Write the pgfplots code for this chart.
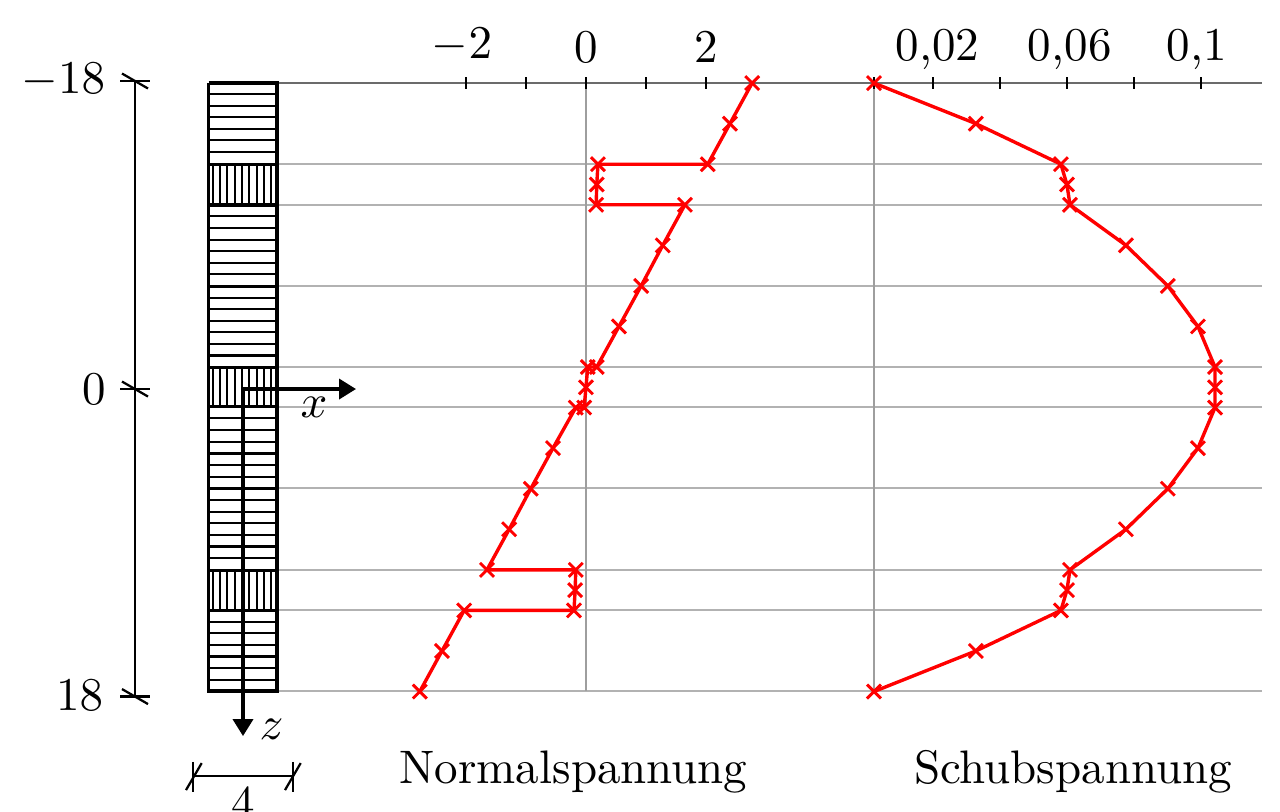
\documentclass[border=0pt]{standalone}
\usepackage{pgfplots}
\pgfplotsset{compat=1.18}
\usetikzlibrary{arrows.meta}
\definecolor{gl}{gray}{0.70}
\definecolor{gv}{gray}{0.62}
\definecolor{gt}{gray}{0.42}
\pgfplotstableread{
z s
-18 2.77
-15.6 2.40
-13.2 2.03
-13.2 0.20
-12 0.18
-10.8 0.17
-10.8 1.65
-8.4 1.28
-6 0.92
-3.6 0.55
-1.2 0.18
-1.2 0.03
0 0
1.2 -0.03
1.2 -0.17
3.6 -0.55
6 -0.92
8.4 -1.28
10.8 -1.65
10.8 -0.17
12 -0.18
13.2 -0.20
13.2 -2.03
15.6 -2.40
18 -2.77
}\normaltable
\pgfplotstableread{
z t
-18 0.0024
-15.6 0.0328
-13.2 0.0582
-12 0.0600
-10.8 0.0609
-8.4 0.0776
-6 0.0901
-3.6 0.0991
-1.2 0.1042
0 0.1042
1.2 0.1042
3.6 0.0991
6 0.0901
8.4 0.0776
10.8 0.0609
12 0.0600
13.2 0.0582
15.6 0.0328
18 0.0024
}\sheartable
\begin{document}
\begin{tikzpicture}
\path[use as bounding box] (0,0) rectangle (272.4pt,172.6pt);
\begin{axis}[at={(0pt,0pt)},anchor=south west,scale only axis,width=272.4pt,height=172.6pt,
  xmin=0,xmax=1280,ymin=0,ymax=811,y dir=reverse,hide axis,clip=false]
% grid lines
\pgfplotsinvokeforeach{164.3,205,286,367.3,406.7,488.3,570,610,691}{
  \addplot[gl,line width=.42pt,forget plot] coordinates {(278,#1)(1262,#1)};}
\addplot[gt,line width=.42pt,forget plot] coordinates {(278,82.7)(1262,82.7)};
\addplot[gv,line width=.48pt,forget plot] coordinates {(586,82.7)(586,691)};
\addplot[gv,line width=.48pt,forget plot] coordinates {(874,82.7)(874,691)};
% hatching
\pgfplotsinvokeforeach{94.1,105.7,117.3,128.9,140.4,152.0,216.4,228,239.6,251.1,262.7,274.3,297.6,309.2,320.7,332.3,343.9,355.5,418.4,430.2,441.8,453.4,465,476.7,499.9,511.6,523.2,534.9,546.5,558.2,621.6,633.2,644.8,656.4,668,679.5}{
  \addplot[black,line width=.45pt,forget plot] coordinates {(208.5,#1)(277.3,#1)};}
\pgfplotsinvokeforeach{212.7,220,227.3,234.7,242,249.3,256.7,264,271}{
  \addplot[black,line width=.4pt,forget plot] coordinates {(#1,164.3)(#1,205)};
  \addplot[black,line width=.4pt,forget plot] coordinates {(#1,367.3)(#1,406.7)};
  \addplot[black,line width=.4pt,forget plot] coordinates {(#1,570)(#1,610)};}
\pgfplotsinvokeforeach{164.3,205,286,367.3,406.7,488.3,570,610}{
  \addplot[black,line width=.65pt,forget plot] coordinates {(208.5,#1)(277.3,#1)};}
\addplot[black,line width=.8pt,forget plot] coordinates {(208.5,82.7)(277.3,82.7)(277.3,691)(208.5,691)(208.5,82.7)};
% axes arrows
\addplot[black,line width=.75pt,-{Triangle[length=3.6pt,width=4.25pt]},forget plot] coordinates {(243,389)(356,389)};
\addplot[black,line width=.75pt,-{Triangle[length=3.6pt,width=4.25pt]},forget plot] coordinates {(243,389)(243,736)};
% ruler
\addplot[black,line width=.48pt,forget plot] coordinates {(135,81)(135,696.5)};
\pgfplotsinvokeforeach{81,389,696.5}{
  \addplot[black,line width=.48pt,forget plot] coordinates {(120,#1)(150,#1)};}
\addplot[black,line width=.48pt,forget plot] coordinates {(122,73.5)(148,88.5)};
\addplot[black,line width=.48pt,forget plot] coordinates {(122,381.5)(148,396.5)};
\addplot[black,line width=.48pt,forget plot] coordinates {(122,689)(148,704)};
% width dimension
\addplot[black,line width=.48pt,forget plot] coordinates {(193.3,776)(292.7,776)};
\addplot[black,line width=.48pt,forget plot] coordinates {(193.3,761.7)(193.3,791.7)};
\addplot[black,line width=.48pt,forget plot] coordinates {(292.7,761.7)(292.7,791.7)};
\addplot[black,line width=.48pt,forget plot] coordinates {(186,790)(201.7,763)};
\addplot[black,line width=.48pt,forget plot] coordinates {(285,790)(300.7,763)};
% text
\node[anchor=east,inner sep=0pt] at (axis cs:106,80) {$-18$};
\node[anchor=east,inner sep=0pt] at (axis cs:106.5,389.5) {$0$};
\node[anchor=east,inner sep=0pt] at (axis cs:104,695) {$18$};
\node[inner sep=0pt] at (axis cs:314,407) {$x$};
\node[inner sep=0pt] at (axis cs:271.7,729) {$z$};
\node[anchor=base,inner sep=0pt] at (axis cs:243.5,818.6) {4};
\node[anchor=base,inner sep=0pt] at (axis cs:573.5,783) {Normalspannung};
\node[anchor=base,inner sep=0pt] at (axis cs:1073,783) {Schubspannung};
\end{axis}
% Normalspannung
\begin{axis}[at={(85.12pt,25.44pt)},anchor=south west,scale only axis,width=85.12pt,height=129.49pt,
  xmin=-3.1,xmax=3.567,ymin=-18,ymax=18,y dir=reverse,clip=false,
  axis y line=none,axis x line*=top,axis line style={draw=none,-},
  xtick={-2,-1,0,1,2},xticklabels={{$-2$\kern 1.7pt},,$0$,,$2$},
  tick align=center,
  major tick length=2.55pt,tick style={black,line width=.6pt},
  xticklabel style={inner sep=0pt,yshift=3pt}]
\addplot[red,line width=.72pt,mark=x,mark size=2.1pt,mark options={line width=.62pt,solid}] table[x=s,y=z] {\normaltable};
\end{axis}
% Schubspannung
\begin{axis}[at={(184.28pt,25.44pt)},anchor=south west,scale only axis,width=84.27pt,height=129.49pt,
  xmin=0,xmax=0.1182,ymin=-18,ymax=18,y dir=reverse,clip=false,
  axis y line=none,axis x line*=top,axis line style={draw=none,-},
  xtick={0.0024,0.02,0.04,0.06,0.08,0.1},xticklabels={{},{\kern 2pt 0,02},{},{\kern 1.2pt 0,06},{},{0,1\kern 1.7pt}},
  tick align=center,
  major tick length=2.55pt,tick style={black,line width=.6pt},
  xticklabel style={inner sep=0pt,yshift=1.5pt}]
\addplot[red,line width=.72pt,mark=x,mark size=2.1pt,mark options={line width=.62pt,solid}] table[x=t,y=z] {\sheartable};
\end{axis}
\end{tikzpicture}
\end{document}
